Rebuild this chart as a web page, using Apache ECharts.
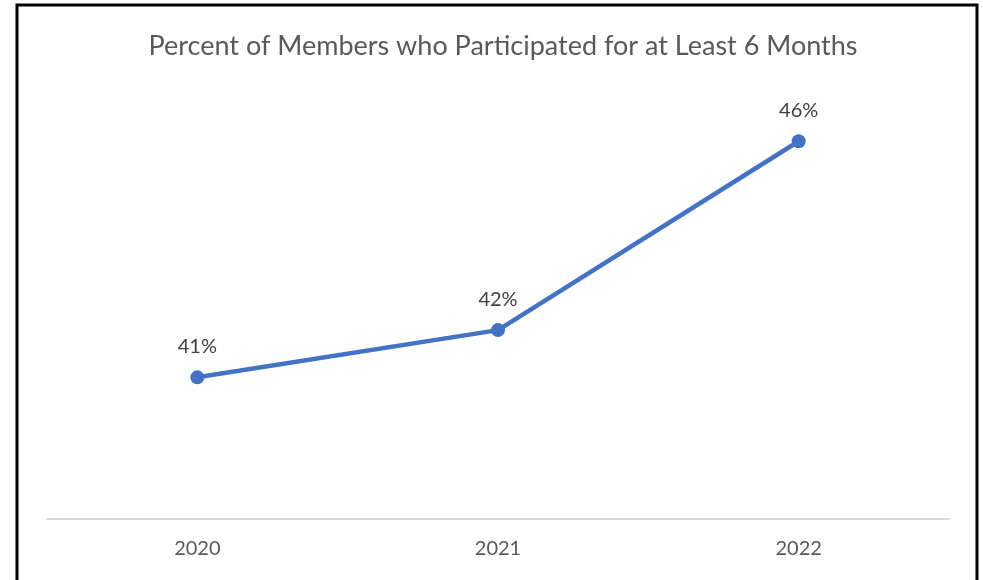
<!DOCTYPE html>
<html>
<head>
<meta charset="utf-8">
<script src="https://cdn.jsdelivr.net/npm/echarts@6/dist/echarts.min.js"></script>
<style>
  html, body { margin: 0; padding: 0; background: #fff; }
  #chart { width: 983px; height: 580px; }
</style>
</head>
<body>
<div id="chart"></div>
<script>
const years = ['2020', '2021', '2022']
const percents = [41, 42, 46]

const chart = echarts.init(document.getElementById('chart'))
const option = {
  animation: false,
  backgroundColor: '#ffffff',
  title: {
    text: 'Percent of Members who Participated for at Least 6 Months',
    left: 498,
    top: 28,
    textAlign: 'center',
    textStyle: {
      fontFamily: 'Lato',
      fontSize: 27,
      fontWeight: 'normal',
      color: '#595959'
    }
  },
  grid: {
    left: 47,
    right: 34,
    top: 94,
    bottom: 61
  },
  xAxis: {
    type: 'category',
    data: years,
    boundaryGap: true,
    axisLine: { lineStyle: { color: '#d9d9d9', width: 2 } },
    axisTick: { show: false },
    axisLabel: {
      margin: 20,
      fontFamily: 'Lato',
      fontSize: 20,
      color: '#595959'
    }
  },
  yAxis: {
    type: 'value',
    min: 38,
    max: 47,
    show: false,
    splitLine: { show: false }
  },
  series: [
    {
      type: 'line',
      data: percents,
      color: '#4472c4',
      symbol: 'circle',
      symbolSize: 14,
      lineStyle: { width: 4.5, color: '#4472c4' },
      itemStyle: { color: '#4472c4' },
      label: {
        show: true,
        position: 'top',
        distance: 14,
        formatter: '{c}%',
        fontFamily: 'Lato',
        fontSize: 20,
        color: '#404040'
      }
    }
  ],
  graphic: [
    {
      type: 'rect',
      shape: { x: 17, y: 5, width: 960, height: 600 },
      style: { fill: null, stroke: '#000', lineWidth: 3 },
      silent: true
    }
  ]
}
chart.setOption(option)
</script>
</body>
</html>
